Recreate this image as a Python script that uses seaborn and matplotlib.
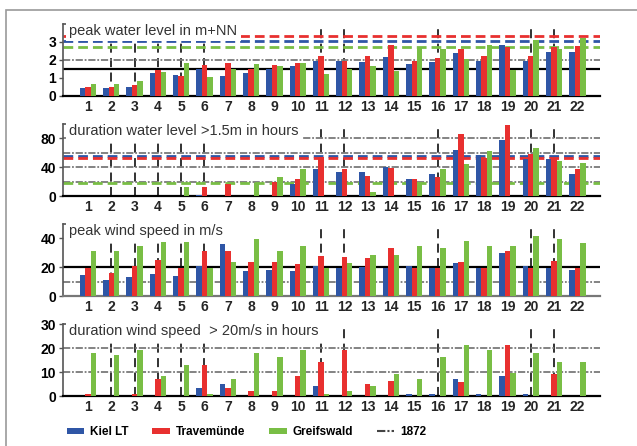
import matplotlib
matplotlib.use("Agg")
import matplotlib.pyplot as plt
import seaborn as sns
import pandas as pd
from matplotlib.patches import Patch, Rectangle
from matplotlib.lines import Line2D

events = [str(i) for i in range(1, 23)]
stations = ["Kiel LT", "Travemünde", "Greifswald"]
colors = ["#2f56a6", "#e8302f", "#79be45"]

peak_level_kiel = [0.43, 0.43, 0.50, 1.26, 1.15, 1.48, 1.09, 1.26, 1.48, 1.65, 1.93, 1.93, 1.87, 2.15, 1.76, 1.87, 2.37, 1.93, 2.81, 1.93, 2.43, 2.43]
peak_level_trave = [0.50, 0.50, 0.59, 1.43, 1.12, 1.70, 1.81, 1.48, 1.70, 1.81, 2.20, 1.90, 2.20, 2.81, 1.93, 2.09, 2.59, 2.20, 2.70, 2.20, 2.70, 2.76]
peak_level_greifs = [0.63, 0.63, 0.81, 1.31, 1.81, 1.04, 1.48, 1.76, 1.65, 1.81, 1.20, 1.48, 1.65, 1.37, 2.70, 2.59, 2.04, 2.81, 1.43, 3.09, 2.59, 3.20]

dur_level_kiel = [0, 0, 0, 0, 0, 2, 0, 0, 0, 16, 37, 34, 33, 40, 24, 30, 64, 57, 78, 51, 51, 30]
dur_level_trave = [0, 0, 0, 0, 0, 12, 16, 0, 19, 23, 54, 38, 28, 39, 24, 26, 86, 53, 99, 59, 53, 38]
dur_level_greifs = [0, 0, 0, 0, 12, 0, 0, 18, 26, 38, 0, 0, 6, 0, 20, 38, 44, 62, 0, 66, 48, 46]

peak_wind_kiel = [14.7, 11.2, 13.3, 15.3, 14, 21, 36.3, 17.4, 18, 17.4, 21, 19.5, 20, 19.5, 21, 19.5, 23, 19.5, 30, 21, 19.5, 18]
peak_wind_trave = [19.5, 16, 21, 25, 19.5, 31.4, 31.4, 23.7, 23.7, 22.3, 28, 27.2, 26.5, 33.5, 19.5, 19.5, 23.7, 19.5, 31.4, 19.5, 24.4, 19.5]
peak_wind_greifs = [31.4, 31.4, 35, 37.7, 38.4, 19.5, 23.7, 39.8, 31.4, 35, 19.5, 23, 28.6, 28.6, 35, 33.5, 38.4, 35, 35, 42, 39.8, 37]

dur_wind_kiel = [0, 0, 0, 0, 0, 3.5, 5.1, 0, 0, 0, 4.3, 0, 0, 0, 1, 1, 7.2, 1, 8.5, 1, 0, 0]
dur_wind_trave = [1, 0, 1, 7.2, 0, 13, 3.5, 2.2, 2.2, 8.5, 14.3, 19.3, 5.1, 6.4, 0, 0, 6, 0, 21.4, 0, 9.3, 0]
dur_wind_greifs = [18, 17.2, 19.3, 8.5, 13, 1, 7.2, 18, 16.4, 19.3, 1, 2.2, 4.3, 9.3, 7.2, 16.4, 21.4, 19.3, 9.7, 18, 14.3, 14.3]

level_1872 = [3.04, 3.30, 2.70]   # Kiel, Travemünde, Greifswald
dur_1872 = [56, 53, 18]

marked_events = ["2", "3", "4", "5", "6", "11", "12", "16", "20", "21"]

titles = ["peak water level in m+NN",
          "duration water level >1.5m in hours",
          "peak wind speed in m/s",
          "duration wind speed  > 20m/s in hours"]
yticks = [[0, 1, 2, 3], [0, 40, 80], [0, 20, 40], [0, 10, 20, 30]]
ylims = [(0, 4.0), (0, 100), (0, 50), (0, 30)]
panels = [
    (peak_level_kiel, peak_level_trave, peak_level_greifs),
    (dur_level_kiel, dur_level_trave, dur_level_greifs),
    (peak_wind_kiel, peak_wind_trave, peak_wind_greifs),
    (dur_wind_kiel, dur_wind_trave, dur_wind_greifs),
]
gray_lines = [[2], [20, 40, 60, 80], [10], [10, 20]]
black_lines = [[1.5], [], [20], []]
color_lines = [level_1872, dur_1872, None, None]
bottom_spine_colors = ["black", "black", "#777777", "black"]

sns.set_theme(style="white")
plt.rcParams["font.family"] = ["Liberation Sans", "DejaVu Sans"]

W, H = 637, 446
fig = plt.figure(figsize=(W / 100, H / 100), dpi=100)

# outer frame
fig.patches.append(Rectangle((6 / W, -0.2), 2, (H - 10) / H + 0.2, transform=fig.transFigure,
                             fill=False, ec="#9a9a9a", lw=1.2, zorder=0))

bottoms_px = [95.7, 196, 296, 396.3]
left_px, right_px = 63, 600
gray_ls = (0, (4, 1, 1, 1))

for k in range(4):
    bpx = bottoms_px[k]
    ax = fig.add_axes([left_px / W, (H - bpx) / H, (right_px - left_px) / W, 72 / H])
    vals = panels[k]
    df = pd.DataFrame({
        "event": events * 3,
        "station": sum([[s] * len(events) for s in stations], []),
        "value": list(vals[0]) + list(vals[1]) + list(vals[2]),
    })
    sns.barplot(data=df, x="event", y="value", hue="station", order=events,
                hue_order=stations, palette=colors, width=0.7, ax=ax,
                legend=False, linewidth=0, saturation=1, zorder=3)
    ax.set_xlim(-1.07, 21.97)
    ax.set_ylim(*ylims[k])
    ax.set_xlabel("")
    ax.set_ylabel("")
    ax.set_yticks(yticks[k])
    ax.set_yticklabels([str(t) for t in yticks[k]], fontsize=10, fontweight="bold", color="black")
    ax.tick_params(axis="x", length=0, pad=3, labelsize=10)
    for lab in ax.get_xticklabels():
        lab.set_fontweight("bold")
    ax.tick_params(axis="y", length=3, width=1, color="#555555", pad=2, left=True)
    for sp in ["top", "right"]:
        ax.spines[sp].set_visible(False)
    ax.spines["left"].set_color("#555555")
    ax.spines["left"].set_linewidth(1.2)
    ax.spines["bottom"].set_color(bottom_spine_colors[k])
    ax.spines["bottom"].set_linewidth(1.6)
    ax.grid(False)
    # bracket at top of left spine
    ax.plot([0, 0.008], [1, 1], transform=ax.transAxes, color="#555555", lw=1.2,
            clip_on=False, zorder=5)

    for ev in marked_events:
        ax.axvline(events.index(ev), color="#222222", lw=1.3, ls=(0, (5, 3)), zorder=1)
    for y in gray_lines[k]:
        ax.axhline(y, color="#7a7a7a", lw=1.3, ls=gray_ls, zorder=2)
    for y in black_lines[k]:
        ax.axhline(y, color="black", lw=1.6, zorder=2)
    if color_lines[k] is not None:
        for y, c in zip(color_lines[k], colors):
            ax.axhline(y, color=c, lw=2.0, ls=(0, (3.5, 1.8)), zorder=2.5)

    ax.text(0.012, 0.90, titles[k], transform=ax.transAxes, ha="left", va="center",
            fontsize=10.5, color="#333333", zorder=6,
            bbox=dict(facecolor="white", edgecolor="none", pad=2.5))

handles = [Patch(facecolor=c, edgecolor="none", label=s) for s, c in zip(stations, colors)]
handles.append(Line2D([0], [0], color="#444444", lw=1.5, ls=gray_ls, label="1872"))
leg = fig.legend(handles=handles, loc="center left", bbox_to_anchor=(56 / W, 1 - 432 / H),
                 ncol=4, frameon=False, handlelength=1.5, handleheight=0.45,
                 columnspacing=2.0, handletextpad=0.5,
                 prop={"weight": "bold", "size": 8.5})
for t in leg.get_texts():
    t.set_color("black")

fig.savefig("out.png", dpi=100)
